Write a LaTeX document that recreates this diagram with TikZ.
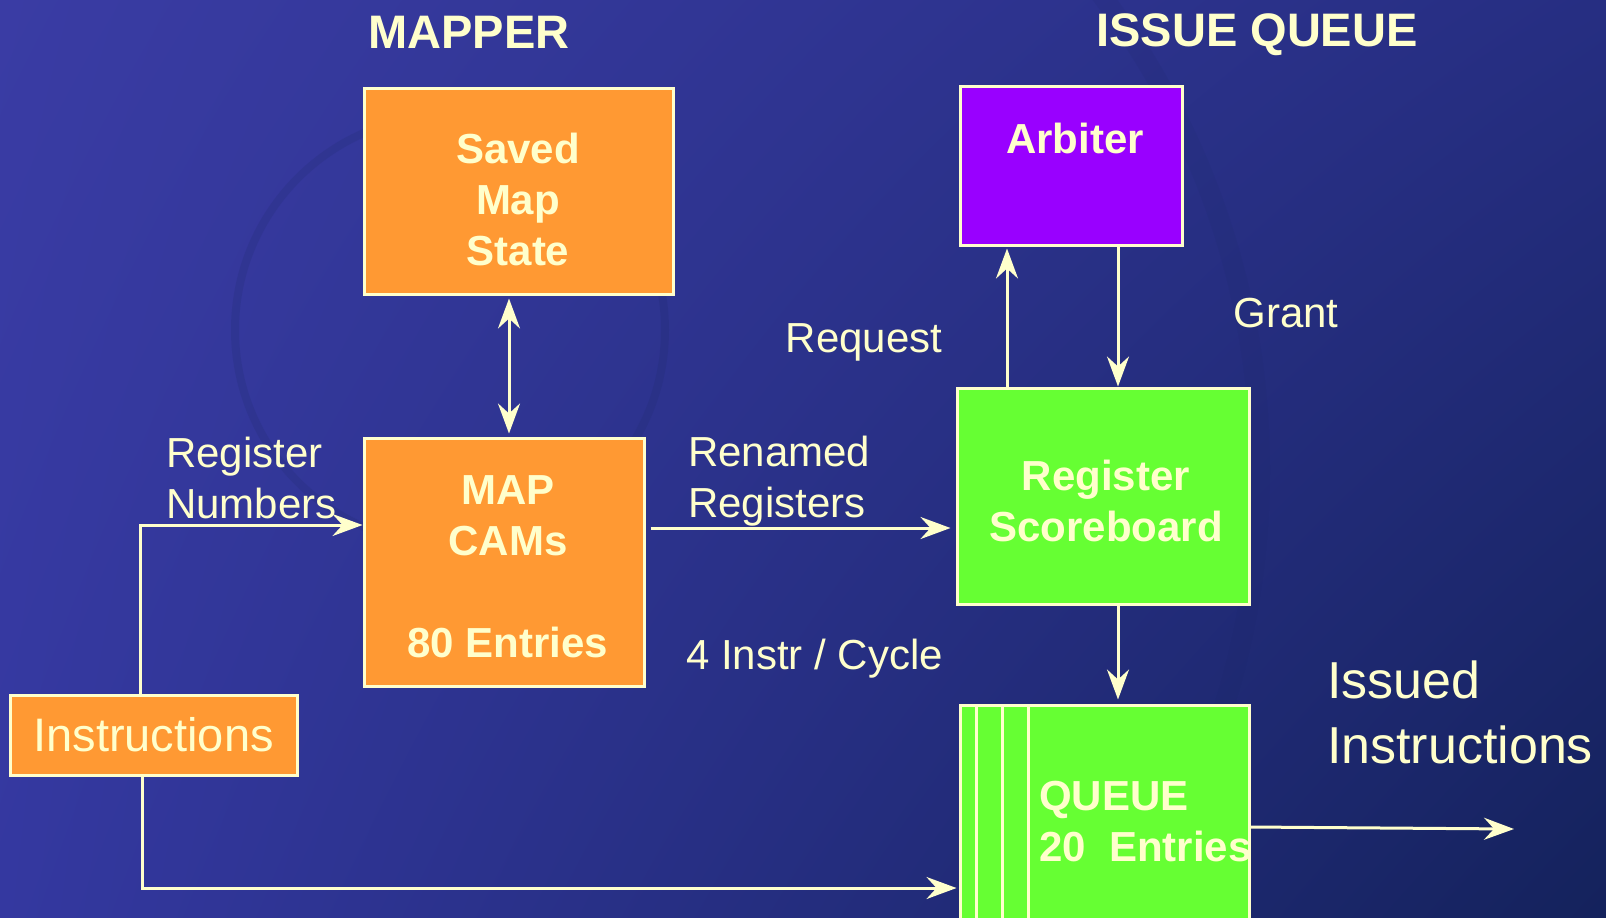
\documentclass[tikz,border=0pt]{standalone}
\usepackage{fontspec}
\setmainfont{Liberation Sans}
\usetikzlibrary{arrows.meta,positioning,shadings}

\definecolor{folieOL}{HTML}{3A3CA4}
\definecolor{folieOR}{HTML}{262E82}
\definecolor{folieUL}{HTML}{3438A0}
\definecolor{folieUR}{HTML}{14225C}
\definecolor{folieDunkel}{HTML}{1D2868}
\definecolor{schrift}{HTML}{FFFFCC}
\definecolor{kastenOrange}{HTML}{FF9933}
\definecolor{kastenGruen}{HTML}{66FF33}
\definecolor{kastenLila}{HTML}{9900FF}

\begin{document}
\begin{tikzpicture}[x=0.5pt, y=-0.5pt, % Raster in Pixeln, y nach unten
  kasten/.style={draw=schrift, line width=1.5pt, inner sep=0pt},
  fett/.style={text=schrift, font=\fontsize{21}{25.5}\selectfont\bfseries, align=center},
  normal/.style={text=schrift, font=\fontsize{21}{25.5}\selectfont, align=left},
  titel/.style={text=schrift, font=\fontsize{23.5}{28}\selectfont\bfseries},
  pfeil/.style={draw=schrift, line width=1.5pt, -{Stealth[length=15pt,width=11pt,inset=5pt]}},
]

% Hintergrund der Folie
\useasboundingbox (0,0) rectangle (1606,917);
\clip (0,0) rectangle (1606,917);
\shade[upper left=folieOL, upper right=folieOR, lower left=folieUL, lower right=folieUR] (0,0) rectangle (1606,917);
% angedeuteter Globus
\draw[folieDunkel, opacity=0.18, line width=4pt] (450,330) circle (215);
\draw[folieDunkel, opacity=0.12, line width=10pt] (470,470) circle (790);

% Überschriften
\node[titel] (mapper) at (469,32) {MAPPER};
\node[titel] (issue) at (1257,35) {ISSUE QUEUE};

% Kästen des Mappers
\node[kasten, fill=kastenOrange, minimum width=154.5pt, minimum height=103pt] (saved) at (518.5,191) {};
\node[fett] (savedtxt) at (518,199) {Saved\\Map\\State};
\node[kasten, fill=kastenOrange, minimum width=140pt, minimum height=124pt] (cams) at (504,562) {};
\node[fett] (camstxt) at (508,567) {MAP\\CAMs\\[25.5pt]80 Entries};
\node[kasten, fill=kastenOrange, minimum width=143.5pt, minimum height=40pt, text=schrift, font=\fontsize{23.5}{28}\selectfont] (instr) at (153.5,735) {Instructions};

% Kästen der Issue Queue
\node[kasten, fill=kastenLila, minimum width=111pt, minimum height=79.5pt] (arbiter) at (1071,165.5) {};
\node[fett] (arbitertxt) at (1075,138) {Arbiter};
\node[kasten, fill=kastenGruen, minimum width=146pt, minimum height=108pt] (board) at (1103,496) {};
\node[fett] (boardtxt) at (1106,501) {Register\\Scoreboard};
\node[kasten, fill=kastenGruen, minimum width=144.5pt, minimum height=110pt] (queue) at (1104.5,815) {};
\foreach \x in {976,1002,1028} {
  \draw[schrift, line width=1.5pt] (\x,705) -- (\x,925); % Einträge der Queue
}
\node[fett, align=left, anchor=west] (queuetxt) at (1032,822) {QUEUE\\20~ Entries};

% Hilfspunkte für die Pfeile
\coordinate (sm) at (509,0);
\coordinate (rn) at (140,525);
\coordinate (ren) at (0,528);
\coordinate (req) at (1007,0);
\coordinate (gnt) at (1118,0);
\coordinate (iq) at (142,888);
\coordinate (aus) at (1514,829);

% Pfeile
\draw[pfeil, {Stealth[length=15pt,width=11pt,inset=5pt]}-{Stealth[length=15pt,width=11pt,inset=5pt]}, shorten <=1.5pt, shorten >=1.5pt] (sm |- saved.south) -- (sm |- cams.north);
\draw[pfeil] (rn |- instr.north) -- (rn) -- (rn -| cams.west);
\draw[pfeil, shorten <=2.5pt, shorten >=2.5pt] (ren -| cams.east) -- (ren -| board.west);
\draw[pfeil, shorten >=1pt] (req |- board.north) -- (req |- arbiter.south);
\draw[pfeil] (gnt |- arbiter.south) -- (gnt |- board.north);
\draw[pfeil, shorten >=2pt] (gnt |- board.south) -- (gnt |- queue.north);
\draw[pfeil, shorten >=1pt] (iq |- instr.south) -- (iq) -- (iq -| queue.west);
\draw[pfeil] (queue.east |- 0,827) -- (aus);

% Beschriftungen
\node[normal, anchor=west] (regnum) at (159,478) {Register\\Numbers};
\node[normal, anchor=west] (renamed) at (681,481) {Renamed\\Registers};
\node[normal] (request) at (864,342) {Request};
\node[normal] (grant) at (1286,313) {Grant};
\node[normal, anchor=west] (rate) at (679,659) {4 Instr / Cycle};
\node[normal, anchor=west, font=\fontsize{26}{32.5}\selectfont] (issued) at (1320,712) {Issued\\Instructions};

\end{tikzpicture}
\end{document}
